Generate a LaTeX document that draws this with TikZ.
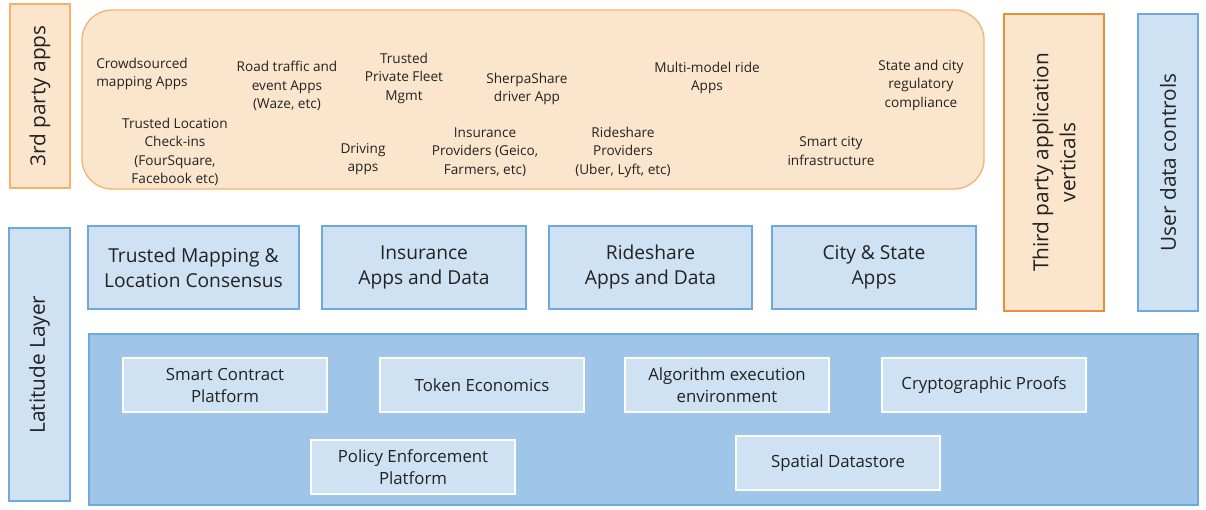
\documentclass[tikz,border=0pt]{standalone}
\usepackage{fontspec}
\setmainfont{Open Sans}
\usetikzlibrary{positioning}
\definecolor{orfill}{HTML}{FCE5CD}
\definecolor{orline}{HTML}{F6B26B}
\definecolor{ordark}{HTML}{E69138}
\definecolor{blfill}{HTML}{CFE2F3}
\definecolor{blline}{HTML}{6FA8DC}
\definecolor{bldeep}{HTML}{9FC5E8}
\definecolor{txt}{HTML}{222222}

\begin{document}
\begin{tikzpicture}[
  x=1pt,y=-1pt,
  every node/.style={text=txt,inner sep=0pt,align=center},
  orbox/.style={draw=orline,fill=orfill,line width=1.3pt},
  blbox/.style={draw=blline,fill=blfill,line width=1.3pt},
  side/.style={rotate=90,font=\fontsize{20.8}{27}\selectfont},
  applab/.style={font=\fontsize{13.6}{18.5}\selectfont},
  vert/.style={blbox,font=\fontsize{19.2}{25}\selectfont,minimum height=83},
  core/.style={draw=white,fill=blfill,line width=2.2pt,
               font=\fontsize{16.8}{22}\selectfont,minimum width=204,minimum height=54},
]
\useasboundingbox (0,0) rectangle (1206,510);

% ---------- top: 3rd party apps ----------
\node[orbox,side,minimum width=184,minimum height=60] (tpa) at (40,96) {3rd party apps};
\node[orbox,rounded corners=30pt,minimum width=902,minimum height=179] (apps) at (533,99.5) {};

\node[applab] (crowd) at (142,74) {Crowdsourced\\mapping Apps};
\node[applab] (road) at (287,86) {Road traffic and\\event Apps\\(Waze, etc)};
\node[applab] (fleet) at (404,78) {Trusted\\Private Fleet\\Mgmt};
\node[applab] (sherpa) at (527,89) {SherpaShare\\driver App};
\node[applab] (multi) at (707,78) {Multi-model ride\\Apps};
\node[applab] (reg) at (921,85) {State and city\\regulatory\\compliance};
\node[applab] (checkin) at (175,152) {Trusted Location\\Check-ins\\(FourSquare,\\Facebook etc)};
\node[applab] (driving) at (363,159) {Driving\\apps};
\node[applab] (insprov) at (485,152) {Insurance\\Providers (Geico,\\Farmers, etc)};
\node[applab] (rideprov) at (623,152) {Rideshare\\Providers\\(Uber, Lyft, etc)};
\node[applab] (smart) at (831,151) {Smart city\\infrastructure};

% ---------- right: verticals and user controls ----------
\node[orbox,draw=ordark,side,minimum width=297,minimum height=100] (verticals) at (1054,162.5)
      {Third party application\\verticals};
\node[blbox,side,minimum width=297,minimum height=60] (controls) at (1168,162.5) {User data controls};

% ---------- middle: application verticals ----------
\node[vert,minimum width=211] (mapping) at (193.5,267.5) {Trusted Mapping \&\\Location Consensus};
\node[vert,minimum width=204] (insurance) at (424,267.5) {Insurance\\Apps and Data};
\node[vert,minimum width=203] (rideshare) at (650.5,267.5) {Rideshare\\Apps and Data};
\node[vert,minimum width=204] (city) at (874,267.5) {City \& State\\Apps};

% ---------- bottom: Latitude layer ----------
\node[blbox,side,minimum width=273,minimum height=61] (latitude) at (39.5,364.5) {Latitude Layer};
\node[blbox,fill=bldeep,minimum width=1109,minimum height=171] (layer) at (643.5,419.5) {};

\node[core] (contract) at (225,385) {Smart Contract\\Platform};
\node[core] (token) at (482,385) {Token Economics};
\node[core] (algo) at (727,385) {Algorithm execution\\environment};
\node[core] (crypto) at (984,385) {Cryptographic Proofs};
\node[core] (policy) at (413,467) {Policy Enforcement\\Platform};
\node[core] (spatial) at (838,463) {Spatial Datastore};

\end{tikzpicture}
\end{document}
